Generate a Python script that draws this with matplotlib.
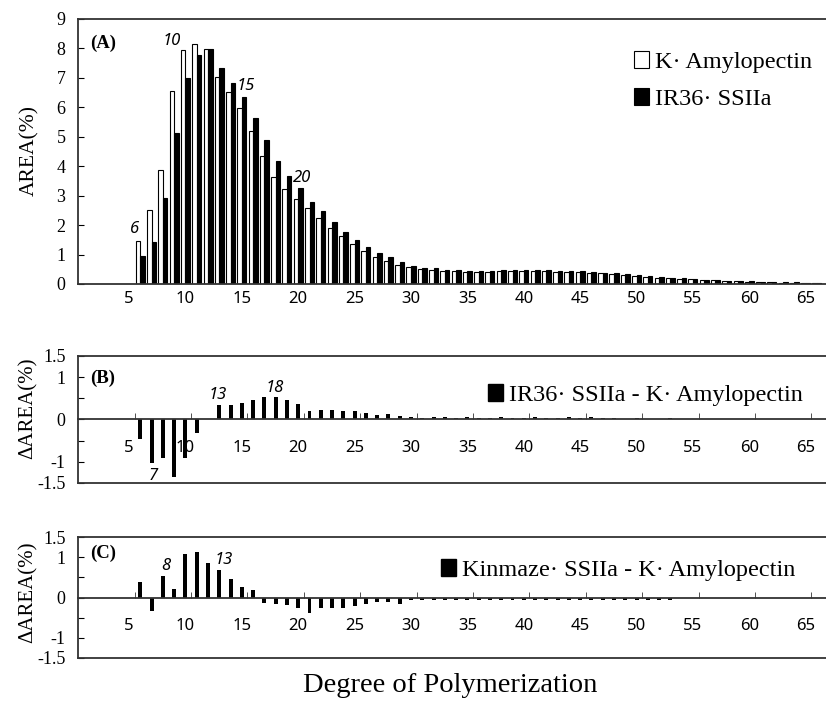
import matplotlib
matplotlib.use("Agg")
import matplotlib.pyplot as plt
from matplotlib.patches import Patch
import numpy as np

SERIF = "Liberation Serif"
SANS = "Noto Sans"
FRAME = "#333333"

# degree of polymerization, DP 6 .. 66
dp = np.arange(6, 67)

k_amylopectin = [
    1.46, 2.51, 3.87, 6.57, 7.95, 8.15, 7.97, 7.02, 6.51, 5.97,
    5.18, 4.35, 3.65, 3.22, 2.88, 2.59, 2.23, 1.89, 1.63, 1.35,
    1.12, 0.93, 0.78, 0.65, 0.59, 0.51, 0.48, 0.45, 0.43, 0.42,
    0.42, 0.42, 0.43, 0.43, 0.44, 0.44, 0.43, 0.42, 0.41, 0.40,
    0.38, 0.36, 0.33, 0.30, 0.28, 0.25, 0.22, 0.20, 0.18, 0.16,
    0.14, 0.12, 0.10, 0.09, 0.08, 0.07, 0.06, 0.05, 0.05, 0.04, 0.04,
]
ir36_ssiia = [
    0.95, 1.42, 2.91, 5.14, 6.99, 7.78, 7.97, 7.35, 6.82, 6.36,
    5.65, 4.89, 4.18, 3.68, 3.25, 2.80, 2.48, 2.10, 1.78, 1.49,
    1.25, 1.04, 0.91, 0.75, 0.62, 0.53, 0.53, 0.48, 0.46, 0.45,
    0.45, 0.45, 0.46, 0.46, 0.47, 0.47, 0.46, 0.45, 0.44, 0.43,
    0.41, 0.39, 0.36, 0.33, 0.30, 0.27, 0.24, 0.21, 0.19, 0.17,
    0.15, 0.13, 0.11, 0.10, 0.09, 0.08, 0.07, 0.06, 0.06, 0.05, 0.05,
]
ir36_diff = [
    -0.45, -1.03, -0.91, -1.37, -0.91, -0.33, 0.0, 0.34, 0.34, 0.39,
    0.47, 0.53, 0.53, 0.45, 0.36, 0.20, 0.23, 0.22, 0.20, 0.20,
    0.16, 0.10, 0.14, 0.08, 0.05, 0.04, 0.06, 0.05, 0.04, 0.05,
    0.03, 0.04, 0.05, 0.04, 0.04, 0.05, 0.04, 0.04, 0.05, 0.04,
    0.05, 0.03, 0.03, 0.02, 0.03, 0.02, 0.02, 0.03, 0.02, 0.02,
    0.01, 0.01, 0.01, 0.01, 0.02, 0.01, 0.01, 0.01, 0.01, 0.01, 0.01,
]
kinmaze_diff = [
    0.39, -0.34, 0.53, 0.22, 1.07, 1.13, 0.86, 0.69, 0.45, 0.26,
    0.18, -0.13, -0.15, -0.19, -0.25, -0.38, -0.25, -0.25, -0.25, -0.21,
    -0.17, -0.11, -0.11, -0.15, -0.07, -0.06, -0.06, -0.07, -0.06, -0.07,
    -0.06, -0.07, -0.06, -0.06, -0.06, -0.07, -0.06, -0.06, -0.07, -0.06,
    -0.06, -0.05, -0.06, -0.05, -0.05, -0.05, -0.05, -0.05, 0.0, 0.0,
    0.0, 0.0, 0.0, 0.0, 0.0, 0.0, 0.0, 0.0, 0.0, 0.0, 0.0,
]

x_ticks = list(range(5, 66, 5))
XLIM = (0.47, 66.8)
W, H = 826, 704


def box(left, top, right, bottom):
    return [left / W, 1 - bottom / H, (right - left) / W, (bottom - top) / H]


def style_frame(ax):
    ax.spines["right"].set_visible(False)
    for s in ("top", "left", "bottom"):
        ax.spines[s].set_color(FRAME)
        ax.spines[s].set_linewidth(1.3)


def tag(ax, n, values, text, dx, dy):
    ax.text(n + dx, values[n - 6] + dy, text, ha="center", va="center",
            family=SANS, style="italic", fontsize=12)


def setup_tick_fonts(ax):
    for lab in ax.get_xticklabels():
        lab.set_fontfamily(SANS)
    for lab in ax.get_yticklabels():
        lab.set_fontfamily(SERIF)


def add_legend(ax, handles, x, y, spacing=0.62):
    ax.legend(handles=handles, loc="upper right", bbox_to_anchor=(x, y),
              frameon=False, prop={"family": SERIF, "size": 17.5},
              handlelength=0.6, handleheight=0.7, handletextpad=0.25,
              labelspacing=spacing, borderpad=0, borderaxespad=0)


fig = plt.figure(figsize=(W / 100, H / 100), dpi=100)

# ---- (A) chain length distribution
axA = fig.add_axes(box(78, 19, 826, 284))
bars_k = axA.bar(dp - 0.2, k_amylopectin, 0.4, color="white",
                 edgecolor="black", linewidth=0.8, label="K\u00b7 Amylopectin")
bars_i = axA.bar(dp + 0.2, ir36_ssiia, 0.4, color="black",
                 edgecolor="black", linewidth=0.8, label="IR36\u00b7 SSIIa")
axA.set_xlim(*XLIM)
axA.set_ylim(0, 9)
axA.set_xticks(x_ticks)
axA.set_yticks(range(10))
axA.tick_params(axis="x", length=0, pad=5, labelsize=12)
axA.tick_params(axis="y", direction="in", length=4, pad=9, labelsize=13)
style_frame(axA)
setup_tick_fonts(axA)
axA.text(0.016, 0.909, "(A)", transform=axA.transAxes, family=SERIF,
         weight="bold", fontsize=13.5, va="center")
tag(axA, 10, k_amylopectin, "10", -1.2, 0.3)
tag(axA, 15, ir36_ssiia, "15", 0.3, 0.35)
tag(axA, 20, ir36_ssiia, "20", 0.3, 0.35)
tag(axA, 6, k_amylopectin, "6", -0.55, 0.4)
add_legend(axA, [bars_k, bars_i], 0.981, 0.881)


def diff_panel(rect, values, label, letter, letter_y, leg_x, leg_y):
    ax = fig.add_axes(rect)
    ax.bar(dp, values, 0.35, color="black")
    ax.set_xlim(*XLIM)
    ax.set_ylim(-1.5, 1.5)
    ax.set_xticks(x_ticks)
    ax.set_xticks(np.arange(5.5, 67, 5), minor=True)
    ax.set_yticks([-1.5, -1, -0.5, 0, 0.5, 1, 1.5])
    ax.set_yticklabels(["-1.5", "-1", "", "0", "", "1", "1.5"])
    ax.spines["bottom"].set_position(("data", 0))
    ax.tick_params(axis="x", which="major", length=0, pad=15, labelsize=12)
    ax.tick_params(axis="x", which="minor", direction="in", length=4,
                   color=FRAME)
    ax.tick_params(axis="y", direction="in", length=4, pad=9, labelsize=13)
    style_frame(ax)
    setup_tick_fonts(ax)
    ax.plot([0, 1], [0, 0], transform=ax.transAxes, color=FRAME, lw=1.3,
            clip_on=False)
    ax.text(0.016, letter_y, letter, transform=ax.transAxes, family=SERIF,
            weight="bold", fontsize=13.5, va="center")
    add_legend(ax, [Patch(color="black", label=label)], leg_x, leg_y)
    return ax


axB = diff_panel(box(78, 356, 826, 483), ir36_diff,
                 "IR36\u00b7 SSIIa - K\u00b7 Amylopectin", "(B)", 0.827,
                 0.969, 0.78)
tag(axB, 13, ir36_diff, "13", -0.1, 0.25)
tag(axB, 18, ir36_diff, "18", -0.1, 0.22)
tag(axB, 7, ir36_diff, "7", 0.1, -0.3)

axC = diff_panel(box(78, 537, 826, 658), kinmaze_diff,
                 "Kinmaze\u00b7 SSIIa - K\u00b7 Amylopectin", "(C)", 0.868,
                 0.959, 0.818)
tag(axC, 8, kinmaze_diff, "8", 0.27, 0.24)
tag(axC, 13, kinmaze_diff, "13", 0.4, 0.23)

fig.text(30 / W, 1 - 150 / H, "AREA(%)", rotation=90, ha="center",
         va="center", family=SERIF, fontsize=15.5)
fig.text(28 / W, 1 - 408 / H, "\u0394AREA(%)", rotation=90, ha="center",
         va="center", family=SERIF, fontsize=15)
fig.text(28 / W, 1 - 592 / H, "\u0394AREA(%)", rotation=90, ha="center",
         va="center", family=SERIF, fontsize=15)
fig.text(450 / W, 1 - 685 / H, "Degree of Polymerization", ha="center",
         va="center", family=SERIF, fontsize=20.5)

fig.savefig("out.png", dpi=100)
